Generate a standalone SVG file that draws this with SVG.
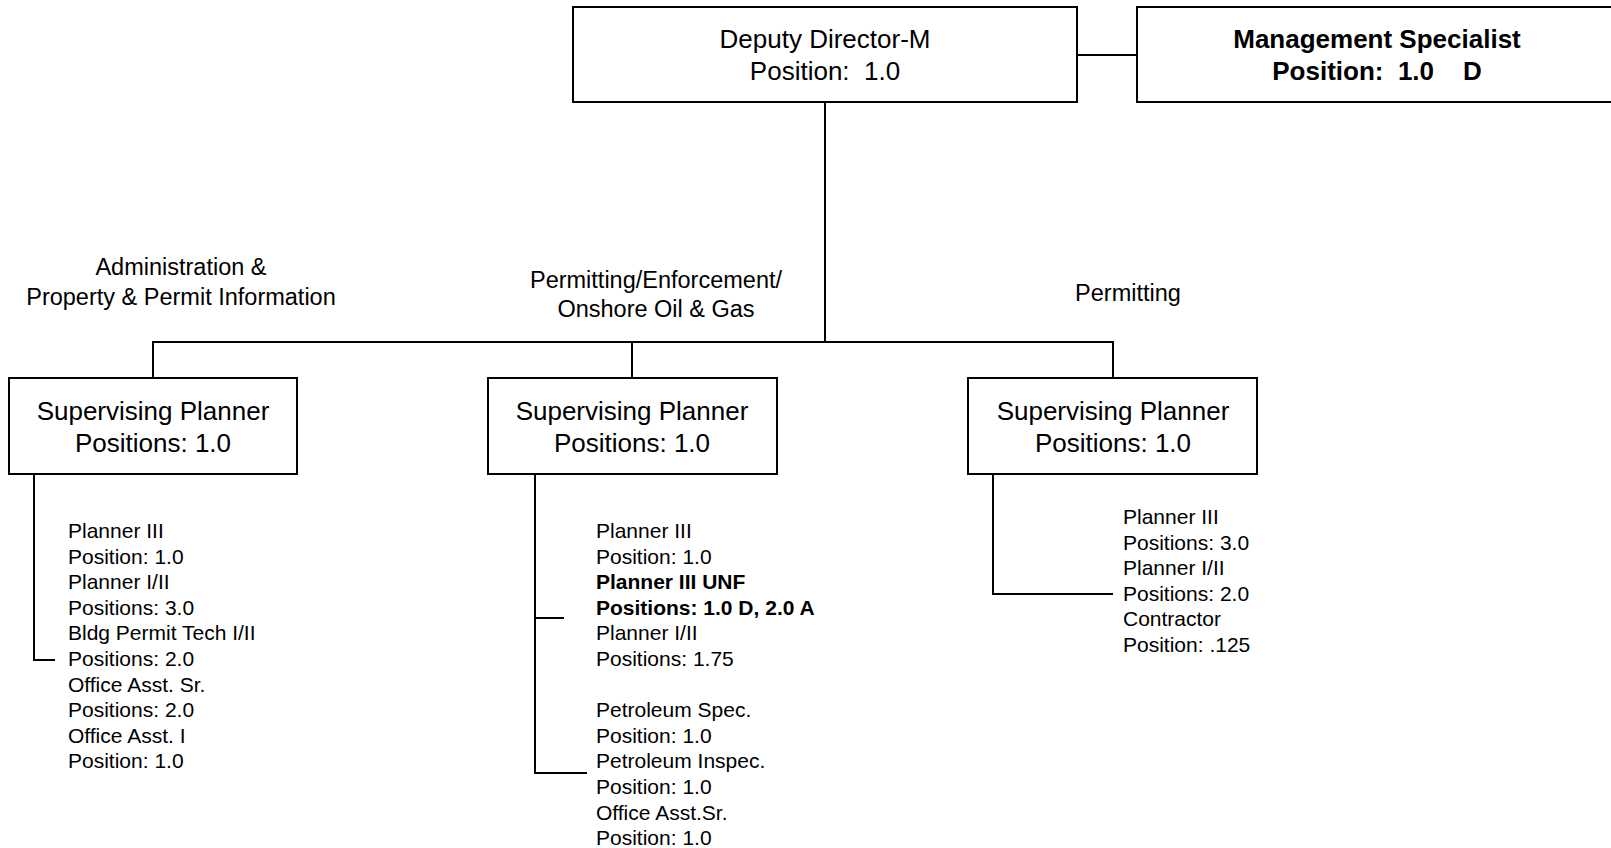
<svg xmlns="http://www.w3.org/2000/svg" width="1611" height="848" viewBox="0 0 1611 848">
  <style>
    .box { fill: #ffffff; stroke: #000000; stroke-width: 2; }
    .wire { fill: none; stroke: #000000; stroke-width: 2; }
    text { font-family: "Liberation Sans", Arial, sans-serif; fill: #000000; }
    .title { font-size: 26px; text-anchor: middle; }
    .bold { font-weight: bold; }
    .label { font-size: 23.5px; text-anchor: middle; }
    .list { font-size: 21px; }
  </style>
  <rect width="1611" height="848" fill="#ffffff"/>

  <!-- connectors -->
  <g id="connectors">
    <line class="wire" x1="1077" y1="55" x2="1137" y2="55"/>
    <line class="wire" x1="825" y1="102" x2="825" y2="342"/>
    <polyline class="wire" points="153,378 153,342 1113,342 1113,378"/>
    <line class="wire" x1="632" y1="342" x2="632" y2="378"/>
    <polyline class="wire" points="34,475 34,660 55,660"/>
    <polyline class="wire" points="535,475 535,773 587,773"/>
    <line class="wire" x1="535" y1="618" x2="564" y2="618"/>
    <polyline class="wire" points="993,475 993,594 1113,594"/>
  </g>

  <!-- top level -->
  <g id="deputy-director">
    <rect class="box" x="573" y="7" width="504" height="95"/>
    <text class="title" x="825" y="48">Deputy Director-M</text>
    <text class="title" x="825" y="80" xml:space="preserve">Position:  1.0</text>
  </g>
  <g id="management-specialist">
    <rect class="box" x="1137" y="7" width="490" height="95"/>
    <text class="title bold" x="1377" y="48">Management Specialist</text>
    <text class="title bold" x="1377" y="80" xml:space="preserve">Position:  1.0    D</text>
  </g>

  <!-- section headings -->
  <g id="label-admin">
    <text class="label" x="181" y="275">Administration &amp;</text>
    <text class="label" x="181" y="305">Property &amp; Permit Information</text>
  </g>
  <g id="label-enforcement">
    <text class="label" x="656" y="288">Permitting/Enforcement/</text>
    <text class="label" x="656" y="317">Onshore Oil &amp; Gas</text>
  </g>
  <g id="label-permitting">
    <text class="label" x="1128" y="301">Permitting</text>
  </g>

  <!-- supervising planners -->
  <g id="supervisor-admin">
    <rect class="box" x="9" y="378" width="288" height="96"/>
    <text class="title" x="153" y="420">Supervising Planner</text>
    <text class="title" x="153" y="452">Positions: 1.0</text>
  </g>
  <g id="supervisor-enforcement">
    <rect class="box" x="488" y="378" width="289" height="96"/>
    <text class="title" x="632" y="420">Supervising Planner</text>
    <text class="title" x="632" y="452">Positions: 1.0</text>
  </g>
  <g id="supervisor-permitting">
    <rect class="box" x="968" y="378" width="289" height="96"/>
    <text class="title" x="1113" y="420">Supervising Planner</text>
    <text class="title" x="1113" y="452">Positions: 1.0</text>
  </g>

  <!-- staff lists -->
  <g id="staff-admin">
    <text class="list" x="68" y="538">Planner III</text>
    <text class="list" x="68" y="563.6">Position: 1.0</text>
    <text class="list" x="68" y="589.2">Planner I/II</text>
    <text class="list" x="68" y="614.8">Positions: 3.0</text>
    <text class="list" x="68" y="640.4">Bldg Permit Tech I/II</text>
    <text class="list" x="68" y="666">Positions: 2.0</text>
    <text class="list" x="68" y="691.6">Office Asst. Sr.</text>
    <text class="list" x="68" y="717.2">Positions: 2.0</text>
    <text class="list" x="68" y="742.8">Office Asst. I</text>
    <text class="list" x="68" y="768.4">Position: 1.0</text>
  </g>
  <g id="staff-enforcement">
    <text class="list" x="596" y="538">Planner III</text>
    <text class="list" x="596" y="563.6">Position: 1.0</text>
    <text class="list bold" x="596" y="589.2">Planner III UNF</text>
    <text class="list bold" x="596" y="614.8">Positions: 1.0 D, 2.0 A</text>
    <text class="list" x="596" y="640.4">Planner I/II</text>
    <text class="list" x="596" y="666">Positions: 1.75</text>
    <text class="list" x="596" y="717.2">Petroleum Spec.</text>
    <text class="list" x="596" y="742.8">Position: 1.0</text>
    <text class="list" x="596" y="768.4">Petroleum Inspec.</text>
    <text class="list" x="596" y="794">Position: 1.0</text>
    <text class="list" x="596" y="819.6">Office Asst.Sr.</text>
    <text class="list" x="596" y="845.2">Position: 1.0</text>
  </g>
  <g id="staff-permitting">
    <text class="list" x="1123" y="524">Planner III</text>
    <text class="list" x="1123" y="549.6">Positions: 3.0</text>
    <text class="list" x="1123" y="575.2">Planner I/II</text>
    <text class="list" x="1123" y="600.8">Positions: 2.0</text>
    <text class="list" x="1123" y="626.4">Contractor</text>
    <text class="list" x="1123" y="652">Position: .125</text>
  </g>
</svg>
